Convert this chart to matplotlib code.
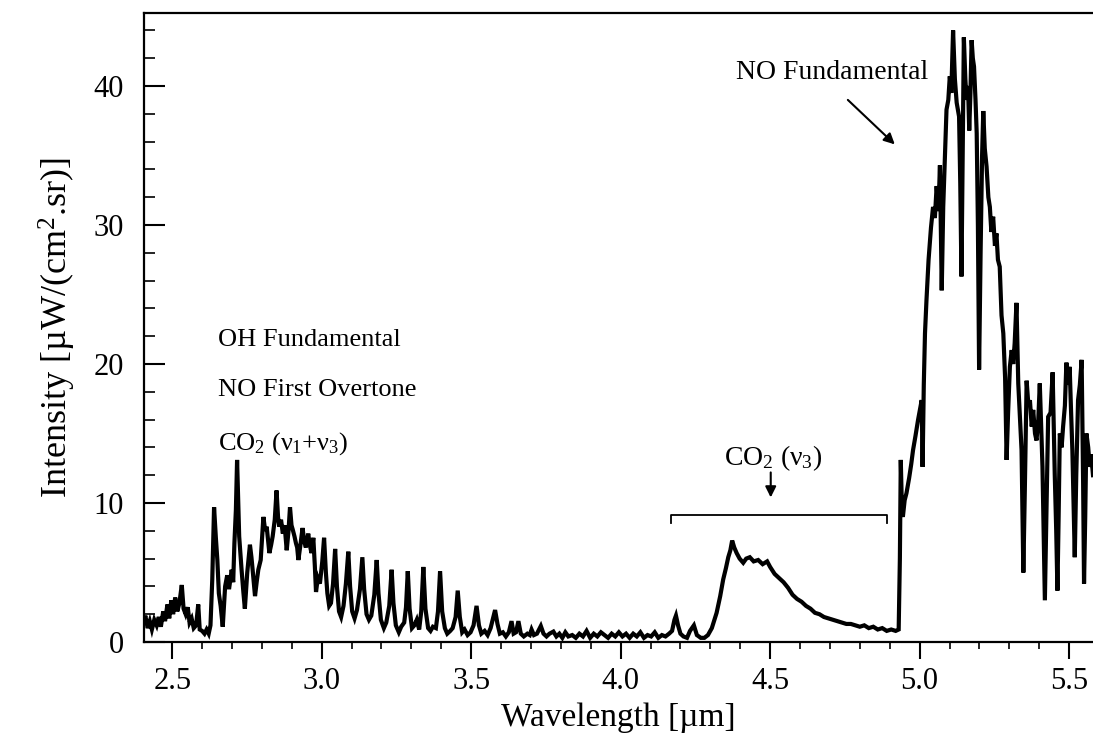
import numpy as np
import matplotlib
matplotlib.use("Agg")
import matplotlib.pyplot as plt

plt.rcParams["font.family"] = ["Liberation Serif", "DejaVu Serif"]
plt.rcParams["mathtext.fontset"] = "custom"
plt.rcParams["mathtext.rm"] = "Liberation Serif"
plt.rcParams["mathtext.it"] = "Liberation Serif"
plt.rcParams["mathtext.bf"] = "Liberation Serif"

# --- Emission spectrum (wavelength in um, intensity in uW/(cm^2 sr)) ---
# OH fundamental / NO first overtone / CO2 (v1+v3) band, 2.40 - 3.80 um
wl_oh = [2.404, 2.410, 2.418, 2.425, 2.432, 2.440, 2.448, 2.455, 2.462, 2.470,
         2.476, 2.484, 2.490, 2.497, 2.503, 2.510, 2.517, 2.524, 2.532, 2.538,
         2.545, 2.552, 2.558, 2.565, 2.572, 2.580, 2.587, 2.592, 2.600, 2.608,
         2.615, 2.622, 2.628, 2.634, 2.640, 2.646, 2.651, 2.656, 2.662, 2.669,
         2.677, 2.684, 2.690, 2.699, 2.704, 2.708, 2.713, 2.717, 2.721, 2.724,
         2.732, 2.738, 2.743, 2.751, 2.760, 2.765, 2.769, 2.777, 2.783, 2.788,
         2.796, 2.805, 2.811, 2.816, 2.825, 2.831, 2.836, 2.843, 2.849, 2.854,
         2.858, 2.864, 2.870, 2.876, 2.883, 2.889, 2.894, 2.899, 2.903, 2.909,
         2.914, 2.918, 2.922, 2.929, 2.936, 2.942, 2.947, 2.955, 2.960, 2.966,
         2.972, 2.977, 2.981, 2.987, 2.994, 3.002, 3.008, 3.014, 3.019, 3.025,
         3.031, 3.038, 3.045, 3.051, 3.058, 3.065, 3.073, 3.081, 3.089, 3.095,
         3.102, 3.110, 3.118, 3.128, 3.136, 3.142, 3.150, 3.158, 3.166, 3.176,
         3.184, 3.190, 3.198, 3.208, 3.216, 3.226, 3.234, 3.240, 3.248, 3.258,
         3.266, 3.276, 3.282, 3.288, 3.294, 3.302, 3.310, 3.318, 3.326, 3.333,
         3.340, 3.347, 3.356, 3.364, 3.372, 3.382, 3.389, 3.396, 3.403, 3.412,
         3.420, 3.430, 3.438, 3.448, 3.455, 3.462, 3.470, 3.478, 3.488, 3.498,
         3.508, 3.518, 3.526, 3.534, 3.545, 3.555, 3.565, 3.572, 3.580, 3.588,
         3.596, 3.606, 3.616, 3.626, 3.635, 3.642, 3.650, 3.658, 3.666, 3.676,
         3.688, 3.696, 3.702, 3.710, 3.720, 3.733, 3.742, 3.752, 3.762, 3.775,
         3.785, 3.795]
int_oh = [1.4, 1.9, 1.0, 1.5, 0.9, 1.6, 1.2, 1.8, 1.1, 2.2,
          1.5, 2.7, 1.7, 3.0, 2.0, 3.2, 2.2, 2.8, 4.1, 2.4,
          2.0, 2.5, 1.4, 1.7, 1.0, 1.2, 2.7, 0.9, 0.8, 0.6,
          0.9, 0.6, 1.2, 4.5, 9.7, 7.5, 5.9, 3.5, 2.6, 1.1,
          4.0, 4.8, 3.8, 5.2, 4.3, 7.1, 9.5, 13.1, 9.8, 7.6,
          5.2, 3.6, 2.4, 5.0, 7.0, 6.1, 5.2, 3.3, 4.4, 5.2,
          5.9, 9.0, 8.0, 8.3, 6.4, 7.0, 7.6, 8.8, 10.9, 9.0,
          8.3, 8.8, 7.8, 8.4, 6.6, 8.0, 9.7, 8.4, 8.1, 7.6,
          7.1, 6.8, 5.9, 7.0, 8.2, 7.2, 6.8, 7.8, 7.0, 6.4,
          7.5, 5.5, 3.6, 4.6, 4.2, 5.8, 7.5, 5.0, 3.5, 2.6,
          2.8, 4.2, 6.7, 4.0, 2.2, 1.8, 2.6, 4.2, 6.5, 4.0,
          2.2, 1.7, 2.3, 3.8, 6.1, 3.8, 2.0, 1.6, 1.9, 3.4,
          5.9, 3.5, 1.6, 1.0, 1.4, 2.6, 5.2, 2.8, 1.2, 0.7,
          1.1, 1.4, 2.5, 5.1, 2.4, 1.0, 1.2, 1.6, 0.9, 2.2,
          5.4, 2.4, 1.0, 0.8, 1.1, 1.0, 2.2, 5.1, 2.2, 1.0,
          0.6, 0.8, 1.0, 1.8, 3.7, 1.8, 0.7, 0.9, 0.5, 0.7,
          1.2, 2.6, 1.2, 0.6, 0.8, 0.5, 1.0, 1.6, 2.3, 1.3,
          0.6, 0.7, 0.4, 0.7, 1.5, 0.6, 0.7, 1.5, 0.6, 0.4,
          0.6, 0.5, 0.9, 0.5, 0.6, 1.15, 0.6, 0.4, 0.6, 0.75,
          0.4, 0.6]

# quiet region and CO2 (v3) band, 3.80 - 4.93 um
wl_co2 = [3.805, 3.815, 3.825, 3.838, 3.850, 3.862, 3.874, 3.886, 3.898, 3.910,
          3.922, 3.934, 3.946, 3.958, 3.970, 3.982, 3.994, 4.006, 4.018, 4.030,
          4.042, 4.054, 4.066, 4.078, 4.090, 4.102, 4.114, 4.126, 4.138, 4.150,
          4.162, 4.172, 4.180, 4.185, 4.192, 4.200, 4.210, 4.222, 4.232, 4.245,
          4.255, 4.268, 4.280, 4.292, 4.305, 4.321, 4.333, 4.343, 4.352, 4.360,
          4.367, 4.373, 4.380, 4.388, 4.398, 4.410, 4.420, 4.432, 4.445, 4.460,
          4.475, 4.490, 4.500, 4.515, 4.530, 4.545, 4.560, 4.575, 4.590, 4.605,
          4.620, 4.635, 4.650, 4.665, 4.680, 4.695, 4.710, 4.725, 4.740, 4.755,
          4.770, 4.785, 4.800, 4.815, 4.830, 4.845, 4.860, 4.875, 4.890, 4.905,
          4.920, 4.930]
int_co2 = [0.3, 0.7, 0.4, 0.5, 0.3, 0.6, 0.4, 0.8, 0.3, 0.6,
           0.4, 0.7, 0.5, 0.3, 0.6, 0.4, 0.7, 0.4, 0.6, 0.3,
           0.6, 0.4, 0.7, 0.3, 0.5, 0.4, 0.7, 0.3, 0.5, 0.4,
           0.6, 0.8, 1.6, 1.9, 1.2, 0.6, 0.4, 0.3, 0.8, 1.2,
           0.5, 0.3, 0.3, 0.5, 1.0, 2.1, 3.3, 4.5, 5.3, 6.1,
           6.6, 7.3, 6.8, 6.4, 6.0, 5.7, 6.0, 6.1, 5.8, 5.9,
           5.6, 5.8, 5.4, 4.9, 4.6, 4.3, 3.9, 3.4, 3.1, 2.9,
           2.6, 2.4, 2.1, 2.0, 1.8, 1.7, 1.6, 1.5, 1.4, 1.3,
           1.3, 1.2, 1.1, 1.2, 1.0, 1.1, 0.9, 1.0, 0.8, 0.9,
           0.8, 0.9]

# NO fundamental band, 4.93 - 5.58 um
wl_no = [4.934, 4.937, 4.941, 4.944, 4.950, 4.956, 4.965, 4.972, 4.978, 4.986,
         4.995, 5.002, 5.007, 5.010, 5.014, 5.018, 5.023, 5.030, 5.038, 5.045,
         5.051, 5.057, 5.063, 5.068, 5.071, 5.074, 5.079, 5.085, 5.090, 5.096,
         5.101, 5.106, 5.112, 5.118, 5.124, 5.132, 5.136, 5.140, 5.144, 5.148,
         5.153, 5.157, 5.162, 5.166, 5.170, 5.174, 5.178, 5.182, 5.187, 5.191,
         5.195, 5.199, 5.204, 5.209, 5.213, 5.218, 5.224, 5.230, 5.235, 5.240,
         5.246, 5.252, 5.257, 5.262, 5.268, 5.274, 5.280, 5.286, 5.291, 5.296,
         5.302, 5.308, 5.313, 5.318, 5.324, 5.330, 5.336, 5.341, 5.347, 5.352,
         5.358, 5.364, 5.369, 5.375, 5.380, 5.386, 5.391, 5.397, 5.402, 5.406,
         5.411, 5.415, 5.419, 5.424, 5.430, 5.438, 5.445, 5.452, 5.457, 5.461,
         5.465, 5.469, 5.475, 5.480, 5.486, 5.491, 5.496, 5.502, 5.506, 5.511,
         5.515, 5.519, 5.524, 5.530, 5.536, 5.542, 5.547, 5.550, 5.554, 5.558,
         5.564, 5.569, 5.574, 5.580]
int_no = [6.0, 13.1, 9.5, 9.0, 10.2, 10.7, 11.8, 12.8, 13.8, 14.8,
          16.0, 16.8, 17.4, 12.6, 18.5, 22.2, 24.6, 27.5, 29.8, 31.3,
          30.5, 32.8, 31.0, 34.3, 30.0, 25.3, 31.3, 35.0, 38.3, 39.0,
          40.7, 39.5, 44.0, 40.5, 38.8, 37.8, 33.0, 26.3, 35.0, 43.5,
          40.5, 39.0, 40.0, 36.8, 39.5, 43.3, 42.0, 41.4, 39.0, 36.6,
          30.0, 19.6, 28.0, 35.0, 38.2, 35.5, 34.2, 32.0, 31.3, 29.5,
          30.6, 28.5, 29.4, 27.5, 27.0, 23.5, 22.2, 19.0, 13.1, 16.5,
          19.8, 21.0, 20.0, 21.5, 24.4, 18.6, 16.0, 13.8, 5.0, 11.0,
          18.8, 17.0, 17.4, 15.5, 16.7, 15.0, 14.5, 16.0, 18.6, 16.0,
          12.6, 8.0, 3.0, 9.0, 16.2, 16.5, 19.4, 12.1, 8.0, 3.7,
          9.0, 15.0, 14.0, 15.5, 17.0, 20.1, 18.5, 19.8, 17.0, 13.8,
          10.0, 6.1, 12.0, 17.4, 18.5, 20.3, 11.4, 4.2, 9.0, 15.0,
          14.0, 12.6, 13.5, 12.0]

wavelength = np.array(wl_oh + wl_co2 + wl_no)
intensity = np.array(int_oh + int_co2 + int_no)

fig = plt.figure(figsize=(10.93, 7.36), dpi=100)
ax = fig.add_axes([0.1313, 0.1277, 0.8687, 0.8546])

ax.plot(wavelength, intensity, color="black", lw=3.0, solid_joinstyle="miter")

ax.set_xlim(2.404, 5.58)
ax.set_ylim(0, 45.25)

ax.set_xticks([2.5, 3.0, 3.5, 4.0, 4.5, 5.0, 5.5])
ax.set_xticks(np.arange(2.5, 5.55, 0.1), minor=True)
ax.set_yticks([0, 10, 20, 30, 40])
ax.set_yticks(np.arange(0, 45, 2), minor=True)
ax.set_xticklabels(["2.5", "3.0", "3.5", "4.0", "4.5", "5.0", "5.5"])

ax.tick_params(axis="x", which="major", direction="out", length=12, width=1.5,
               labelsize=22, pad=6)
ax.tick_params(axis="x", which="minor", direction="out", length=5, width=1.2)
ax.tick_params(axis="y", which="major", direction="in", length=15, width=1.5,
               labelsize=22, pad=14)
ax.tick_params(axis="y", which="minor", direction="in", length=8, width=1.2)

for side in ["left", "bottom", "top"]:
    ax.spines[side].set_linewidth(1.6)
ax.spines["right"].set_visible(False)

ax.set_xlabel("Wavelength [µm]", fontsize=24, labelpad=5)
ax.set_ylabel("Intensity [µW/(cm$^2$.sr)]", fontsize=26, labelpad=11)

# band labels
ax.text(2.653, 21.7, "OH Fundamental", fontsize=19, va="center", ha="left")
ax.text(2.653, 18.1, "NO First Overtone", fontsize=19, va="center", ha="left")
ax.text(2.653, 14.3, r"CO$_2$ ($\nu_1$+$\nu_3$)", fontsize=19, va="center", ha="left")

ax.text(4.51, 13.2, r"CO$_2$ ($\nu_3$)", fontsize=20, va="center", ha="center")
ax.annotate("", xy=(4.502, 10.4), xytext=(4.502, 12.2),
            arrowprops=dict(arrowstyle="-|>", color="black", lw=1.5,
                            mutation_scale=16, shrinkA=0, shrinkB=0))
# bracket spanning the CO2 (v3) band
ax.plot([4.167, 4.167, 4.89, 4.89], [8.56, 9.14, 9.14, 8.56],
        color="black", lw=1.3)

ax.text(5.028, 41.0, "NO Fundamental", fontsize=20, va="center", ha="right")
ax.annotate("", xy=(4.917, 35.8), xytext=(4.76, 39.0),
            arrowprops=dict(arrowstyle="-|>", color="black", lw=1.5,
                            mutation_scale=16, shrinkA=0, shrinkB=0))

fig.savefig("out.png", dpi=100)
